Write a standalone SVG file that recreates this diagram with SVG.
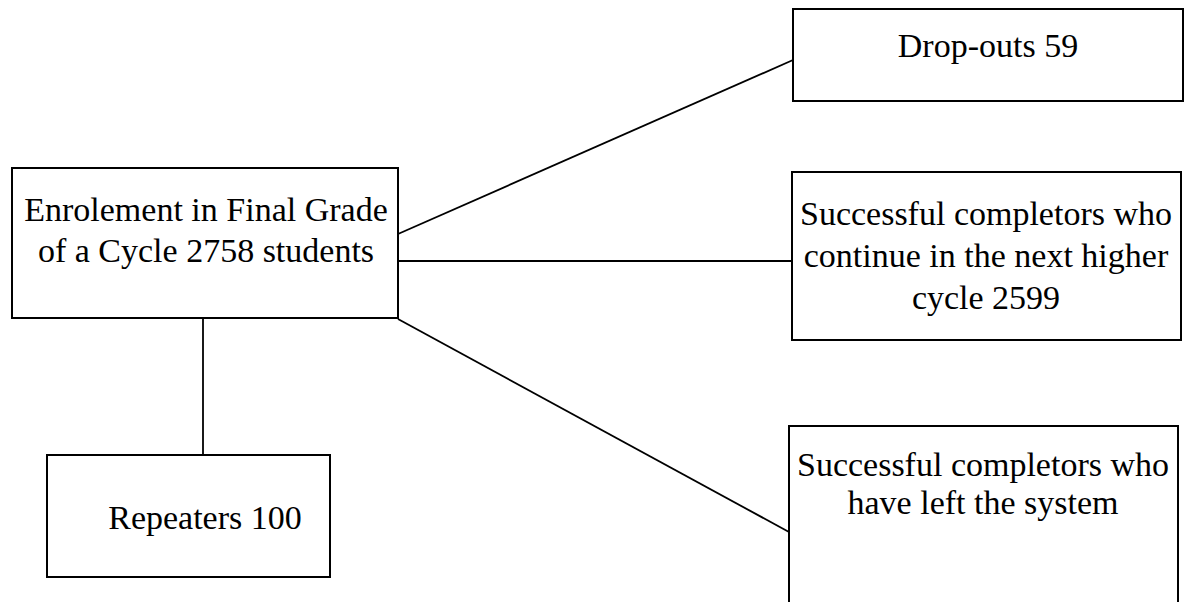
<svg xmlns="http://www.w3.org/2000/svg" width="1192" height="602" viewBox="0 0 1192 602">
<style>
.box{fill:#fff;stroke:#000;stroke-width:2}
.con{stroke:#000;stroke-width:1.8;fill:none}
text{font-family:"Liberation Serif","Times New Roman",serif;font-size:34px;fill:#000;text-anchor:middle}
</style>
<rect width="1192" height="602" fill="#fff"/>
<g id="connectors">
<line class="con" x1="398" y1="234" x2="793" y2="60"/>
<line class="con" x1="398" y1="261" x2="792" y2="261"/>
<line class="con" x1="398" y1="319" x2="789" y2="532"/>
<line class="con" x1="203" y1="318" x2="203" y2="455"/>
</g>
<g id="enrolment">
<rect class="box" x="12" y="168" width="386" height="150"/>
<text x="206" y="221">Enrolement in Final Grade</text>
<text x="206" y="262">of a Cycle 2758 students</text>
</g>
<g id="dropouts">
<rect class="box" x="793" y="9" width="390" height="92"/>
<text x="988" y="57">Drop-outs 59</text>
</g>
<g id="continue">
<rect class="box" x="792" y="172" width="389" height="168"/>
<text x="986" y="225">Successful completors who</text>
<text x="986" y="267">continue in the next higher</text>
<text x="986" y="309">cycle 2599</text>
</g>
<g id="left">
<rect class="box" x="789" y="426" width="389" height="190"/>
<text x="983" y="476">Successful completors who</text>
<text x="983" y="514">have left the system</text>
</g>
<g id="repeaters">
<rect class="box" x="47" y="455" width="283" height="122"/>
<text x="205" y="529">Repeaters 100</text>
</g>
</svg>
